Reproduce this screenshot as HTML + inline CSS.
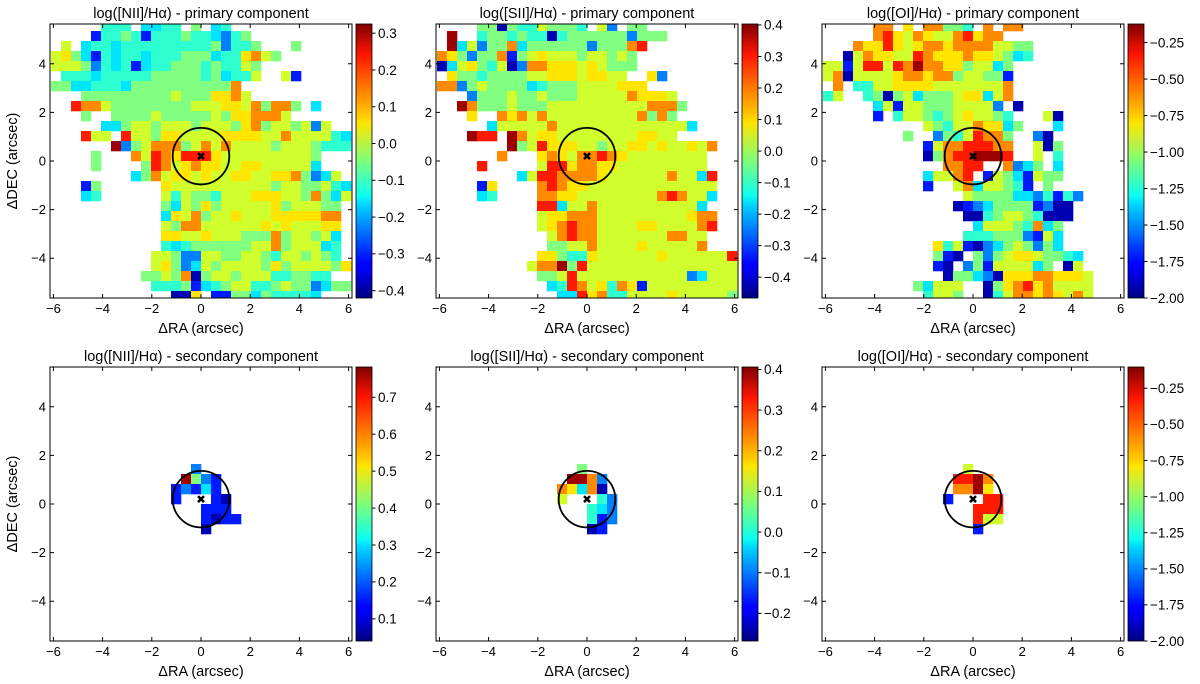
<!DOCTYPE html>
<html><head><meta charset="utf-8">
<style>
html,body{margin:0;padding:0;background:#fff;}
svg{display:block;font-family:"Liberation Sans","DejaVu Sans",sans-serif;}
</style></head>
<body>
<svg id="fig" width="1200" height="684" viewBox="0 0 1200 684" xmlns="http://www.w3.org/2000/svg">
<defs>
<linearGradient id="jetgrad" x1="0" y1="1" x2="0" y2="0">
<stop offset="0" stop-color="#00007f"/><stop offset="0.11" stop-color="#0000ff"/><stop offset="0.125" stop-color="#0000ff"/>
<stop offset="0.34" stop-color="#00d4ff"/><stop offset="0.375" stop-color="#0dffef"/><stop offset="0.5" stop-color="#7dff7a"/>
<stop offset="0.64" stop-color="#ffe500"/><stop offset="0.66" stop-color="#ffd000"/><stop offset="0.89" stop-color="#ff1400"/><stop offset="1" stop-color="#7f0000"/>
</linearGradient>
</defs>
</svg>
<script>
// ---------- data ----------
const titles = ["log([NII]/H\u03b1) - primary component","log([SII]/H\u03b1) - primary component","log([OI]/H\u03b1) - primary component",
"log([NII]/H\u03b1) - secondary component","log([SII]/H\u03b1) - secondary component","log([OI]/H\u03b1) - secondary component"];
const vmins = [-0.42,-0.466,-2.0, 0.04,-0.268,-2.0];
const vmaxs = [0.325,0.403,-0.123, 0.782,0.406,-0.103];
const cbTicks0 = [0.3,0.2,0.1,0.0,-0.1,-0.2,-0.3,-0.4];
const cbTicks1 = [0.4,0.3,0.2,0.1,0.0,-0.1,-0.2,-0.3,-0.4];
const cbTicks2 = [-0.25,-0.5,-0.75,-1.0,-1.25,-1.5,-1.75,-2.0];
const cbTicks3 = [0.7,0.6,0.5,0.4,0.3,0.2,0.1];
const cbTicks4 = [0.4,0.3,0.2,0.1,0.0,-0.1,-0.2];
const cbTicks5 = [-0.25,-0.5,-0.75,-1.0,-1.25,-1.5,-1.75,-2.0];
const xTicks = [-6,-4,-2,0,2,4,6];
const yTicks = [-4,-2,0,2,4];
// fraction of the colour range for each level char 0..9,a
const levelFrac = [0.05,0.15,0.25,0.35,0.42,0.5,0.58,0.65,0.74,0.85,0.97];
const gridNII1 = [
".....444.3344.5.34",
"....1445414445443245",
".6.344344444444452445...5",
"67531434434445553447865",
"666524341344555454465",
".44434444455555453446..61",
"5533444355555555558",
"...55555555565557786",
"..98865555555566677685885.3",
"...5..555565555565778886",
".....33566566656665785665626",
"...966.96657766667777668666643",
"......a25688856868666656665444",
"....5...8698799976666666665",
"....5....598678776677666663",
"........358677676677667785236",
"...15......7666666666656655643",
"...34......6465546667776658536",
"...........536575666667566655",
"...........376856676667777788",
"...........658866666676766677",
"...........776676665558566563",
"...........434555555668566634",
"..........6652266556654665654",
"..........67523656666575666657",
".........5565805665666445544",
"..........44451345664456552355",
"............007.11553544443"];
const gridSII1 = [
"....55054465554.62.55",
".a..4554544045555552555",
".a3625583555555255589",
"87525581567666566565",
"03675460288777676555",
".755455556677767766..72",
"882565555345556666777",
"...255565565556666687776",
"..a8555655566666666668885",
"...7..878686666666668585",
".....366666866666666666663",
"...a99.a8677666666667766",
".......a56977766566776766768",
"......8...78768898766666666",
"....9.....69978877666666666",
"........36998888766666686639",
"....17....898776666666666666",
"....34....887766666666898663",
"..........99366866666666663",
"..........677888666666666788",
"..........678988666677666689",
"...........6898866666668866",
"...........5566866667666668",
"..........77544766666676666669",
".........688a59666666666666666",
"..........55696666666666623666",
"...........3498674871666666666",
"............339784466667666665"];
const gridOI1 = [
".....88.7.88554.8.88",
".....8976876689788",
"...877976788788886655",
"..0687766987778776534",
"661699698a887756635",
"6806666788788566551",
".8.4466777766666668",
"46..450563555677368",
".....3616655566662.0",
".....1.466545676654...60",
"..........6546687735...3",
"........5..25469885..20",
"..........168899988..605",
"..........05899aaa9..6.4",
"............8899..8235.3",
"..........36689.16531655",
"..........1..68366541.5",
"..............655553324142",
".............012355551200",
"..............00456654000",
"...............366654835",
"..............4445552163",
"...........7461023565253",
"...........510.52567765543",
"...........10.251666635.06",
"............055320777887776",
".........53666..05789786666",
"..........4665..04688787686"];
const gridNII2 = ["...2....","..a521..",".12131..",".1...10.","....111.","....1011","....0..."];
const gridSII2 = ["...5....","..aa82..",".87380..",".6...42.","....432.","....412.","....01.."];
const gridOI2  = ["...6....","..99a8..","..88a7..",".1...99.","....999.","....966.","....1..."];
// ---------- layout ----------
const grids=[gridNII1,gridSII1,gridOI1,gridNII2,gridSII2,gridOI2];
const cbTickSets=[cbTicks0,cbTicks1,cbTicks2,cbTicks3,cbTicks4,cbTicks5];
const axLefts=[50,436,822,50,436,822], axTops=[24,24,24,367,367,367], cbLefts=[356,742,1128,356,742,1128];
const W=302,H=274,SX=24.6,SY=24.3,CW=0.4065,CH=0.4115;
const NS='http://www.w3.org/2000/svg';
const svg=document.getElementById('fig');
function mk(tag,attrs,parent){const e=document.createElementNS(NS,tag);for(const k in attrs)e.setAttribute(k,attrs[k]);(parent||svg).appendChild(e);return e;}
function cl(v){return Math.max(0,Math.min(1,v));}
function jet(t){const r=cl(Math.min(4*t-1.5,-4*t+4.5)),g=cl(Math.min(4*t-0.5,-4*t+3.5)),b=cl(Math.min(4*t+0.5,-4*t+2.5));
return 'rgb('+Math.round(r*255)+','+Math.round(g*255)+','+Math.round(b*255)+')';}
function fmt(v,dec){let s=v.toFixed(dec);if(s.startsWith('-'))s='\u2212'+s.slice(1);return s;}
for(let p=0;p<6;p++){
  const L=axLefts[p],T=axTops[p],cx=L+W/2,cy=T+H/2;
  const vmin=vmins[p],vmax=vmaxs[p];
  const xs=x=>cx+x*SX, ys=y=>cy-y*SY;
  const g=mk('g',{});
  
  
  const cp=mk('clipPath',{id:'cp'+p},g);
  mk('rect',{x:L,y:T,width:W,height:H},cp);
  const cells=mk('g',{'clip-path':'url(#cp'+p+')'},g);
  
  
  const top=p<3, k0=top?-15:-4, j0=top?13:3;
  const grid=grids[p];
  for(let r=0;r<grid.length;r++){
    const row=grid[r];
    for(let c=0;c<row.length&&c<30;c++){
      const ch=row[c]; if(ch==='.'||ch===' ')continue;
      const lvl=ch==='a'?10:parseInt(ch,10);
      const val=vmin+levelFrac[lvl]*(vmax-vmin);
      const k=k0+c,j=j0-r;
      const x1=xs(k*CW),x2=xs((k+1)*CW),y1=ys((j+1)*CH),y2=ys(j*CH);
      const rc=mk('rect',{x:x1.toFixed(2),y:y1.toFixed(2),width:(x2-x1+0.3).toFixed(2),height:(y2-y1+0.3).toFixed(2),fill:jet((val-vmin)/(vmax-vmin))},cells);
      
      
    }
  }
  const circ=mk('circle',{cx:xs(0),cy:ys(0.2),r:28.3,fill:'none',stroke:'#000','stroke-width':1.8},g);
  
  
  const mx=xs(0),my=ys(0.2);
  const cross=mk('path',{d:`M${mx-3},${my-3}L${mx+3},${my+3}M${mx-3},${my+3}L${mx+3},${my-3}`,stroke:'#000','stroke-width':2.6},g);
  
  
  const fr=mk('rect',{x:L,y:T,width:W,height:H,fill:'none',stroke:'#000','stroke-width':1},g);
  
  
  for(const t of xTicks){
    const x=xs(t);
    const tk=mk('path',{d:`M${x},${T+H}v-4M${x},${T}v4`,stroke:'#000','stroke-width':1},g);
    
    
    const tl=mk('text',{x:x,y:T+H+15,'font-size':13,'text-anchor':'middle'},g);
    tl.textContent=fmt(t,0);
    
    
  }
  for(const t of yTicks){
    const y=ys(t);
    const tk=mk('path',{d:`M${L},${y}h4M${L+W},${y}h-4`,stroke:'#000','stroke-width':1},g);
    
    
    const tl=mk('text',{x:L-4,y:y+4.5,'font-size':13,'text-anchor':'end'},g);
    tl.textContent=fmt(t,0);
    
    
  }
  const ti=mk('text',{x:cx,y:T-6,'font-size':14.5,'text-anchor':'middle'},g);
  ti.textContent=titles[p];
  
  
  const xl=mk('text',{x:cx,y:T+H+35,'font-size':14.5,'text-anchor':'middle'},g);
  xl.textContent='\u0394RA (arcsec)';
  
  
  if(p%3===0){
    const yl=mk('text',{x:0,y:0,'font-size':14.5,'text-anchor':'middle',transform:`translate(17,${cy}) rotate(-90)`},g);
    yl.textContent='\u0394DEC (arcsec)';
    
    
  }
  const cbx=cbLefts[p];
  const cb=mk('rect',{x:cbx,y:T,width:16,height:H,fill:'url(#jetgrad)',stroke:'#000','stroke-width':0.8},g);
  
  
  const dec=(p===2||p===5)?2:1;
  for(const t of cbTickSets[p]){
    if(t<vmin||t>vmax)continue;
    const y=T+H-(t-vmin)/(vmax-vmin)*H;
    const tk=mk('path',{d:`M${cbx+16},${y}h3.5`,stroke:'#000','stroke-width':1},g);
    
    
    const tl=mk('text',{x:cbx+22,y:y+4.8,'font-size':13.5},g);
    tl.textContent=fmt(t,dec);
    
    
  }
}
</script>
</body></html>
